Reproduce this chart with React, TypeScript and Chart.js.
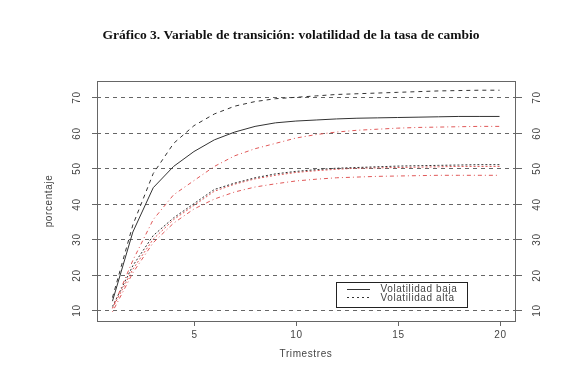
import React, { useEffect, useRef } from "react";
import { Chart, registerables } from "chart.js";

Chart.register(...registerables);

// Trimestres (eje X)
const trimestres = [1, 2, 3, 4, 5, 6, 7, 8, 9, 10, 11, 12, 13, 14, 15, 16, 17, 18, 19, 20];
const xTicks = [5, 10, 15, 20];
const yTicks = [10, 20, 30, 40, 50, 60, 70];

// Volatilidad baja
const bajaSuperior = [13.5, 34, 48.5, 57, 62, 65.3, 67.5, 68.8, 69.6, 70, 70.4, 70.8, 71, 71.2, 71.4, 71.6, 71.8, 71.9, 72, 72];
const bajaCentral = [12.5, 32, 44.5, 50.5, 54.7, 58, 60.2, 61.8, 62.8, 63.3, 63.6, 63.9, 64.1, 64.2, 64.3, 64.4, 64.5, 64.6, 64.6, 64.6];
const bajaRoja = [10.5, 24, 35.5, 42.5, 46.5, 50.5, 53.5, 55.5, 57, 58.5, 59.5, 60.2, 60.7, 61, 61.3, 61.5, 61.6, 61.7, 61.8, 61.8];

// Volatilidad alta
const altaCentral = [11, 22.5, 31, 36, 40, 44, 45.8, 47.3, 48.4, 49.1, 49.6, 50, 50.2, 50.4, 50.6, 50.7, 50.8, 50.9, 51, 51];
const altaRojaPunteada = [10.5, 21.5, 30, 35.5, 39.5, 43.5, 45.5, 47, 48, 48.8, 49.3, 49.7, 50, 50.1, 50.2, 50.3, 50.4, 50.5, 50.5, 50.5];
const altaRojaInferior = [9.5, 20.5, 29, 34.5, 38.5, 41.3, 43.3, 44.7, 45.6, 46.4, 46.9, 47.3, 47.5, 47.7, 47.8, 47.9, 48, 48, 48, 48];

const titulo = "Gráfico 3. Variable de transición: volatilidad de la tasa de cambio";
const tituloX = "Trimestres";
const tituloY = "porcentaje";
const leyenda = ["Volatilidad baja", "Volatilidad alta"];

export default function App() {
  const ref = useRef<HTMLCanvasElement>(null);

  useEffect(() => {
    const canvas = ref.current;
    if (!canvas) return;
    const mk = (vals: number[]) => trimestres.map((t, i) => ({ x: t, y: vals[i] }));
    const black = "#333";
    const red = "#e05858";
    const textColor = "#444";

    const rAxes = {
      id: "rAxes",
      beforeDatasetsDraw(chart: any) {
        const { ctx, chartArea: a, scales } = chart;
        const ys = scales.y;
        ctx.save();
        ctx.strokeStyle = "#666";
        ctx.lineWidth = 1;
        ctx.setLineDash([4, 4]);
        yTicks.forEach((v) => {
          const py = Math.round(ys.getPixelForValue(v)) + 0.5;
          ctx.beginPath();
          ctx.moveTo(a.left, py);
          ctx.lineTo(a.right, py);
          ctx.stroke();
        });
        ctx.restore();
      },
      afterDraw(chart: any) {
        const { ctx, chartArea: a, scales } = chart;
        const xs = scales.x;
        const ys = scales.y;
        ctx.save();
        // box
        ctx.strokeStyle = "#666";
        ctx.lineWidth = 1;
        ctx.setLineDash([]);
        ctx.strokeRect(a.left + 0.5, a.top + 0.5, a.right - a.left, a.bottom - a.top);

        // x ticks
        ctx.font = '10px "Liberation Sans"';
        (ctx as any).letterSpacing = "0.6px";
        ctx.fillStyle = textColor;
        ctx.textAlign = "center";
        ctx.textBaseline = "middle";
        xTicks.forEach((v) => {
          const px = Math.round(xs.getPixelForValue(v)) + 0.5;
          ctx.beginPath();
          ctx.moveTo(px, a.bottom);
          ctx.lineTo(px, a.bottom + 5);
          ctx.stroke();
          ctx.fillText(String(v), px, a.bottom + 14);
        });
        ctx.fillText(tituloX, (a.left + a.right) / 2, a.bottom + 33);

        // y ticks (left & right), rotated labels
        yTicks.forEach((v) => {
          const py = Math.round(ys.getPixelForValue(v)) + 0.5;
          ctx.beginPath();
          ctx.moveTo(a.left - 5, py);
          ctx.lineTo(a.left, py);
          ctx.moveTo(a.right, py);
          ctx.lineTo(a.right + 7, py);
          ctx.stroke();
          [a.left - 20, a.right + 22].forEach((lx) => {
            ctx.save();
            ctx.translate(lx, py);
            ctx.rotate(-Math.PI / 2);
            ctx.fillText(String(v), 0, 0);
            ctx.restore();
          });
        });
        ctx.save();
        ctx.translate(49, (a.top + a.bottom) / 2);
        ctx.rotate(-Math.PI / 2);
        ctx.fillText(tituloY, 0, 0);
        ctx.restore();

        // legend
        const lx = 336.5, ly = 282.5, lw = 131, lh = 25;
        ctx.fillStyle = "#fff";
        ctx.fillRect(lx, ly, lw, lh);
        ctx.strokeStyle = "#222";
        ctx.strokeRect(lx, ly, lw, lh);
        ctx.strokeStyle = black;
        ctx.beginPath();
        ctx.moveTo(347, 289.5);
        ctx.lineTo(370, 289.5);
        ctx.stroke();
        ctx.setLineDash([2, 3]);
        ctx.beginPath();
        ctx.moveTo(347, 297.5);
        ctx.lineTo(370, 297.5);
        ctx.stroke();
        ctx.setLineDash([]);
        ctx.fillStyle = textColor;
        ctx.textAlign = "left";
        ctx.fillText(leyenda[0], 380.5, 289.5);
        ctx.fillText(leyenda[1], 380.5, 298);

        // title
        (ctx as any).letterSpacing = "0px";
        ctx.font = 'bold 13.5px "Liberation Serif"';
        ctx.fillStyle = "#111";
        ctx.textAlign = "center";
        ctx.fillText(titulo, 291, 36);
        ctx.restore();
      },
    };

    const chart = new Chart(canvas, {
      type: "line",
      data: {
        datasets: [
          { label: "baja sup", data: mk(bajaSuperior), borderColor: black, borderDash: [4, 4] },
          { label: leyenda[0], data: mk(bajaCentral), borderColor: black },
          { label: "baja roja", data: mk(bajaRoja), borderColor: red, borderDash: [1, 3, 4, 3] },
          { label: leyenda[1], data: mk(altaCentral), borderColor: black, borderDash: [2, 2] },
          { label: "alta roja", data: mk(altaRojaPunteada), borderColor: red, borderDash: [2, 2] },
          { label: "alta roja inf", data: mk(altaRojaInferior), borderColor: red, borderDash: [1, 3, 4, 3] },
        ],
      },
      options: {
        responsive: false,
        animation: false,
        devicePixelRatio: 1,
        events: [],
        layout: { padding: { left: 97, right: 56, top: 81, bottom: 71 } },
        plugins: { legend: { display: false }, title: { display: false }, tooltip: { enabled: false } },
        elements: { point: { radius: 0 }, line: { tension: 0, borderWidth: 1, fill: false } },
        scales: {
          x: { type: "linear", min: 0.24, max: 20.76, display: false },
          y: { type: "linear", min: 6.9, max: 74.6, display: false },
        },
      },
      plugins: [rAxes],
    });
    return () => chart.destroy();
  }, []);

  return (
    <div style={{ position: "fixed", left: 0, top: 0, width: 571, height: 392, background: "#fff" }}>
      <canvas ref={ref} width={571} height={392} style={{ display: "block" }} />
    </div>
  );
}
